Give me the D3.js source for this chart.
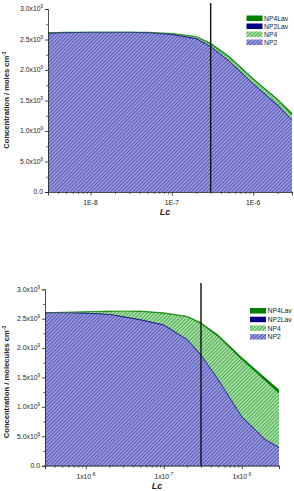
<!DOCTYPE html>
<html><head><meta charset="utf-8">
<script src="https://cdn.jsdelivr.net/npm/d3@7"></script>
<style>
body{margin:0;background:#fff;}
svg{display:block;font-family:"Liberation Sans",Arial,sans-serif;}
</style></head>
<body><svg id="c" width="294" height="491"></svg>
<script>
// Data (concentration in units of 1e9)
const lc = [3e-9, 5e-9, 1e-8, 2e-8, 3e-8, 5e-8, 1e-7, 2e-7, 3e-7, 5e-7, 1e-6, 2e-6, 3e-6];
const topNP2    = [2.60, 2.61, 2.62, 2.62, 2.62, 2.61, 2.58, 2.51, 2.38, 2.15, 1.77, 1.42, 1.18];
const topNP2Lav = [2.61, 2.62, 2.62, 2.62, 2.62, 2.62, 2.59, 2.52, 2.39, 2.16, 1.78, 1.43, 1.19];
const topNP4    = [2.61, 2.61, 2.62, 2.62, 2.62, 2.62, 2.59, 2.54, 2.42, 2.21, 1.84, 1.50, 1.26];
const topNP4Lav = [2.61, 2.62, 2.62, 2.62, 2.62, 2.62, 2.60, 2.55, 2.44, 2.23, 1.86, 1.52, 1.29];
const botNP2    = [2.60, 2.60, 2.59, 2.57, 2.53, 2.48, 2.39, 2.14, 1.88, 1.46, 0.83, 0.44, 0.31];
const botNP2Lav = [2.60, 2.60, 2.60, 2.58, 2.54, 2.49, 2.40, 2.15, 1.89, 1.47, 0.84, 0.45, 0.32];
const botNP4    = [2.60, 2.61, 2.61, 2.62, 2.63, 2.62, 2.59, 2.53, 2.41, 2.19, 1.80, 1.44, 1.23];
const botNP4Lav = [2.60, 2.61, 2.62, 2.63, 2.63, 2.63, 2.60, 2.54, 2.43, 2.22, 1.84, 1.49, 1.29];
const yTicks = [0, 0.5, 1.0, 1.5, 2.0, 2.5, 3.0];
const yTickMant = ["0.0", "5.0x10", "1.0x10", "1.5x10", "2.0x10", "2.5x10", "3.0x10"];
const yTickExp = ["", "8", "9", "9", "9", "9", "9"];
const xMajor = [1e-8, 1e-7, 1e-6];
const topXLabels = ["1E-8", "1E-7", "1E-6"];
const botXMant = ["1x10", "1x10", "1x10"];
const botXExp = ["-8", "-7", "-6"];
const legendNames = ["NP4Lav", "NP2Lav", "NP4", "NP2"];
const cutoff = 3e-7;
const xDomain = [3e-9, 3e-6];

const svg = d3.select("#c");
const defs = svg.append("defs");
function hatch(id, bg, fg) {
  const p = defs.append("pattern").attr("id", id).attr("patternUnits", "userSpaceOnUse")
    .attr("width", 2.6).attr("height", 2.6).attr("patternTransform", "rotate(45)");
  p.append("rect").attr("width", 2.6).attr("height", 2.6).attr("fill", bg);
  p.append("rect").attr("width", 1.1).attr("height", 2.6).attr("fill", fg);
}
hatch("hb", "#a2a2e2", "#5454b6");
hatch("hg", "#b4e6b4", "#4aa84a");
const fills = {NP4Lav: "#008000", NP2Lav: "#000080", NP4: "url(#hg)", NP2: "url(#hb)"};

function chart(o) {
  const g = svg.append("g");
  const x = d3.scaleLog().domain(xDomain).range([o.left, o.right]);
  const y = d3.scaleLinear().domain([0, 3.0]).range([o.bottom, o.top]);
  const area = d3.area().x((d, i) => x(lc[i])).y0(y(0)).y1(d => y(d));
  const series = [["NP4Lav", o.np4lav], ["NP4", o.np4], ["NP2Lav", o.np2lav], ["NP2", o.np2]];
  series.forEach(([n, v]) => {
    g.append("path").datum(v).attr("d", area).attr("fill", fills[n]);
  });
  g.append("path").datum(o.np4lav).attr("fill", "none").attr("stroke", "#1a8a1a").attr("stroke-width", 0.8)
    .attr("d", d3.line().x((d, i) => x(lc[i])).y(d => y(d)));
  g.append("path").datum(o.np2).attr("fill", "none").attr("stroke", "#2a2a90").attr("stroke-width", 0.6)
    .attr("d", d3.line().x((d, i) => x(lc[i])).y(d => y(d)));

  const ya = g.append("g").attr("transform", `translate(${o.left},0)`)
    .call(d3.axisLeft(y).tickValues(yTicks).tickSize(3).tickFormat(""));
  ya.select(".domain").attr("stroke", "#222").attr("stroke-width", 0.8);
  ya.selectAll(".tick line").attr("stroke", "#222").attr("stroke-width", 0.8);
  g.append("g").attr("transform", `translate(${o.left},0)`)
    .call(d3.axisLeft(y).tickValues(d3.range(0.25, 3.0, 0.5)).tickSize(1.8).tickFormat(""))
    .call(s => s.select(".domain").remove())
    .selectAll(".tick line").attr("stroke", "#222").attr("stroke-width", 0.7);
  yTicks.forEach((v, i) => {
    const t = g.append("text").attr("x", o.left - 5).attr("y", y(v) + 2.3)
      .attr("text-anchor", "end").attr("font-size", 6.8).attr("fill", "#222");
    t.append("tspan").text(yTickMant[i]);
    if (yTickExp[i]) t.append("tspan").attr("dy", -3).attr("font-size", 4.5).text(yTickExp[i]);
  });
  const xa = g.append("g").attr("transform", `translate(0,${o.bottom})`)
    .call(d3.axisBottom(x).tickValues(xMajor).tickSize(3.5).tickFormat(""));
  xa.select(".domain").attr("stroke", "#222").attr("stroke-width", 0.8);
  xa.selectAll(".tick line").attr("stroke", "#222").attr("stroke-width", 0.8);
  const minors = x.ticks().filter(t => !xMajor.some(m => Math.abs(m - t) / m < 1e-6));
  g.append("g").attr("transform", `translate(0,${o.bottom})`)
    .call(d3.axisBottom(x).tickValues(minors).tickSize(2).tickFormat(""))
    .call(s => s.select(".domain").remove())
    .selectAll(".tick line").attr("stroke", "#222").attr("stroke-width", 0.7);
  xMajor.forEach((v, i) => {
    const t = g.append("text").attr("x", x(v)).attr("y", o.bottom + 13)
      .attr("text-anchor", "middle").attr("font-size", 6.8).attr("fill", "#222");
    if (o.sup) {
      t.append("tspan").text(botXMant[i]);
      t.append("tspan").attr("dy", -3).attr("font-size", 4.5).text(botXExp[i]);
    } else t.text(topXLabels[i]);
  });
  g.append("line").attr("x1", x(cutoff)).attr("x2", x(cutoff))
    .attr("y1", o.bottom).attr("y2", o.lineTop)
    .attr("stroke", "#111").attr("stroke-width", 1.4);
  g.append("text").attr("x", (o.left + o.right) / 2 - 5).attr("y", o.xTitleY)
    .attr("text-anchor", "middle").attr("font-size", 9).attr("font-weight", "bold")
    .attr("font-style", "italic").attr("fill", "#222").text("Lc");
  const yt = g.append("text").attr("transform", `translate(${o.yTitleX},${o.yTitleY}) rotate(-90)`)
    .attr("text-anchor", "middle").attr("font-size", 7.6).attr("font-weight", "bold").attr("fill", "#222");
  yt.append("tspan").text(o.yTitle);
  yt.append("tspan").attr("dy", -3).attr("font-size", 5).text("-3");
  legendNames.forEach((n, i) => {
    const ly = o.legY + i * o.legStep;
    g.append("rect").attr("x", o.legX).attr("y", ly - 3).attr("width", 16).attr("height", 5.5)
      .attr("fill", fills[n]);
    g.append("text").attr("x", o.legX + 17.5).attr("y", ly + 2.3).attr("font-size", 6.8)
      .attr("fill", "#222").text(n);
  });
}

chart({left: 48, right: 292, top: 9, bottom: 192, lineTop: 3,
  np2: topNP2, np2lav: topNP2Lav, np4: topNP4, np4lav: topNP4Lav, sup: false,
  xTitleY: 215, yTitleX: 9, yTitleY: 100, yTitle: "Concentration / moles cm",
  legX: 246.5, legY: 18.5, legStep: 8});
chart({left: 45, right: 279, top: 289.3, bottom: 465.7, lineTop: 283,
  np2: botNP2, np2lav: botNP2Lav, np4: botNP4, np4lav: botNP4Lav, sup: true,
  xTitleY: 489, yTitleX: 9, yTitleY: 382, yTitle: "Concentration / molecules cm",
  legX: 250, legY: 311, legStep: 8.7});
</script></body></html>
